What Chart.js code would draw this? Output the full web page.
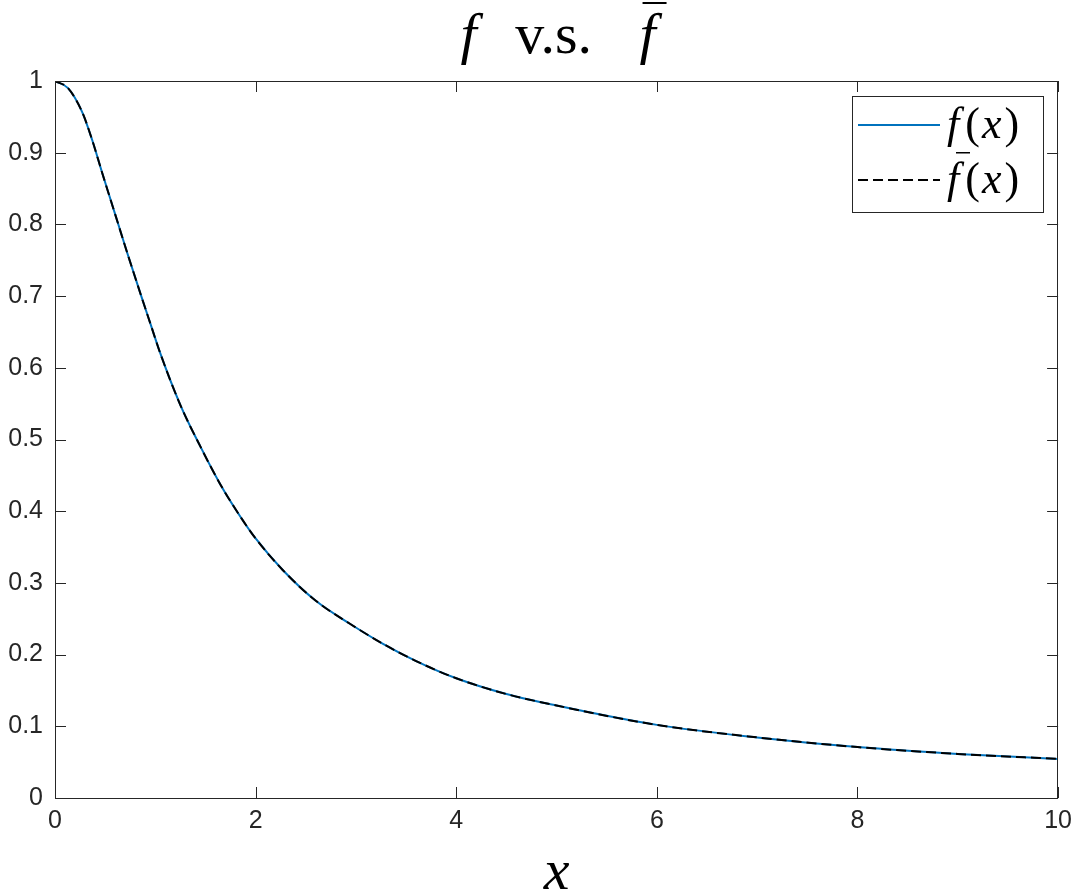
<!DOCTYPE html>
<html>
<head>
<meta charset="utf-8">
<title>f v.s. f bar</title>
<script src="https://cdn.jsdelivr.net/npm/chart.js@4.4.1/dist/chart.umd.min.js"></script>
<style>
  html, body { margin: 0; padding: 0; background: #fff; }
</style>
</head>
<body>
<canvas id="chart" width="1080" height="896"></canvas>
<script>
// === Data ===
var xValues    = [0, 0.13, 0.27, 0.37, 0.47, 0.6, 0.73, 0.86, 0.95, 1.05, 1.25, 1.45, 1.65, 1.85, 2.0, 2.27, 2.6, 2.94, 3.27, 3.6, 4.0, 4.5, 5.0, 6.0, 7.0, 8.0, 9.0, 10];
var fValues    = [1.0, 0.990, 0.957, 0.918, 0.872, 0.814, 0.756, 0.700, 0.662, 0.620, 0.548, 0.490, 0.437, 0.392, 0.362, 0.318, 0.275, 0.243, 0.215, 0.191, 0.167, 0.145, 0.129, 0.102, 0.0845, 0.071, 0.0615, 0.0545];
var fBarValues = [1.0, 0.990, 0.957, 0.918, 0.872, 0.814, 0.756, 0.700, 0.662, 0.620, 0.548, 0.490, 0.437, 0.392, 0.362, 0.318, 0.275, 0.243, 0.215, 0.191, 0.167, 0.145, 0.129, 0.102, 0.0845, 0.071, 0.0615, 0.0545];
var xTicks = [0, 2, 4, 6, 8, 10];
var yTicks = [0, 0.1, 0.2, 0.3, 0.4, 0.5, 0.6, 0.7, 0.8, 0.9, 1];

var AXIS_COLOR = '#262626';
var SERIF = '"Liberation Serif", "DejaVu Serif", serif';

function toPoints(xs, ys) {
    return xs.map(function(x, i) { return { x: x, y: ys[i] }; });
}

// draws a run of [text, italic, extraSpace] pieces starting at x
function drawPieces(ctx, pieces, x, y, size) {
    pieces.forEach(function(p) {
        ctx.font = (p[1] ? 'italic ' : '') + size + 'px ' + SERIF;
        ctx.fillText(p[0], x, y);
        x += ctx.measureText(p[0]).width + (p[2] || 0);
    });
    return x;
}

// === Box, mirrored inward ticks, titles, legend ===
var frame = {
    id: 'frame',
    afterDraw: function(chart) {
        var ctx = chart.ctx, a = chart.chartArea;
        var sx = chart.scales.x, sy = chart.scales.y;
        var len = 11;
        ctx.save();
        ctx.strokeStyle = AXIS_COLOR;
        ctx.lineWidth = 1;
        ctx.beginPath();
        xTicks.forEach(function(v) {
            var px = Math.round(sx.getPixelForValue(v)) + 0.5;
            ctx.moveTo(px, a.bottom); ctx.lineTo(px, a.bottom - len);
            ctx.moveTo(px, a.top); ctx.lineTo(px, a.top + len);
        });
        yTicks.forEach(function(v) {
            var py = Math.round(sy.getPixelForValue(v)) + 0.5;
            ctx.moveTo(a.left, py); ctx.lineTo(a.left + len, py);
            ctx.moveTo(a.right, py); ctx.lineTo(a.right - len, py);
        });
        ctx.stroke();
        ctx.strokeRect(Math.round(a.left) + 0.5, Math.round(a.top) + 0.5,
                       Math.round(a.right - a.left) - 1, Math.round(a.bottom - a.top));

        // title: f v.s. f-bar
        var cx = (a.left + a.right) / 2;
        ctx.fillStyle = '#000';
        ctx.textAlign = 'center';
        ctx.textBaseline = 'alphabetic';
        ctx.font = 'italic 58px ' + SERIF;
        ctx.fillText('f', cx - 88, 53);
        ctx.fillText('f', cx + 91, 53);
        ctx.font = '58px ' + SERIF;
        ctx.fillText('v.s.', cx - 3, 53);
        ctx.fillRect(cx + 86, 2, 24, 2);

        // x axis title
        ctx.font = 'italic 58px ' + SERIF;
        ctx.fillText('x', cx, 889);

        // legend
        var ds = chart.data.datasets;
        var bx = 852, by = 96, bw = 191, bh = 116;
        ctx.fillStyle = '#fff';
        ctx.fillRect(bx, by, bw, bh);
        ctx.strokeStyle = AXIS_COLOR;
        ctx.setLineDash([]);
        ctx.strokeRect(bx + 0.5, by + 0.5, bw, bh);
        var rows = [125, 180];
        ds.forEach(function(d, i) {
            ctx.strokeStyle = d.borderColor;
            ctx.lineWidth = d.borderWidth;
            ctx.setLineDash(d.borderDash || []);
            ctx.beginPath();
            ctx.moveTo(858, rows[i]);
            ctx.lineTo(940, rows[i]);
            ctx.stroke();
        });
        ctx.setLineDash([]);
        ctx.fillStyle = '#000';
        ctx.textAlign = 'left';
        var label = [['f', true, 6], ['(', false, 2], ['x', true, 3], [')', false]];
        drawPieces(ctx, label, 947, 138, 44);
        drawPieces(ctx, label, 947, 193, 44);
        ctx.fillRect(956, 152, 14, 1.5);
        ctx.restore();
    }
};

var tickFont = { family: '"Liberation Sans", Arial, sans-serif', size: 25 };

new Chart(document.getElementById('chart').getContext('2d'), {
    type: 'line',
    data: {
        datasets: [{
            label: 'f(x)',
            data: toPoints(xValues, fValues),
            borderColor: '#0072BD',
            borderWidth: 2,
            pointRadius: 0,
            cubicInterpolationMode: 'monotone',
            order: 1,
            fill: false
        }, {
            label: 'f\u0304(x)',
            data: toPoints(xValues, fBarValues),
            borderColor: '#000000',
            borderWidth: 2,
            borderDash: [10, 5],
            pointRadius: 0,
            cubicInterpolationMode: 'monotone',
            order: 0,
            fill: false
        }]
    },
    options: {
        responsive: false,
        animation: false,
        devicePixelRatio: 1,
        layout: { padding: { top: 81, right: 20, bottom: 0, left: 0 } },
        plugins: {
            legend: { display: false },
            title: { display: false },
            tooltip: { enabled: false }
        },
        scales: {
            x: {
                type: 'linear',
                min: 0, max: 10,
                grid: { display: false, drawTicks: false },
                border: { display: false },
                afterBuildTicks: function(s) { s.ticks = xTicks.map(function(v) { return { value: v }; }); },
                afterFit: function(s) { s.height = 98; },
                ticks: {
                    color: AXIS_COLOR, font: tickFont, padding: 8, maxRotation: 0,
                    callback: function(v) { return String(v); }
                }
            },
            y: {
                type: 'linear',
                min: 0, max: 1,
                grid: { display: false, drawTicks: false },
                border: { display: false },
                afterBuildTicks: function(s) { s.ticks = yTicks.map(function(v) { return { value: v }; }); },
                afterFit: function(s) { s.width = 55; },
                ticks: {
                    color: AXIS_COLOR, font: tickFont, padding: 12,
                    callback: function(v) { return String(v); }
                }
            }
        }
    },
    plugins: [frame]
});
</script>
</body>
</html>
